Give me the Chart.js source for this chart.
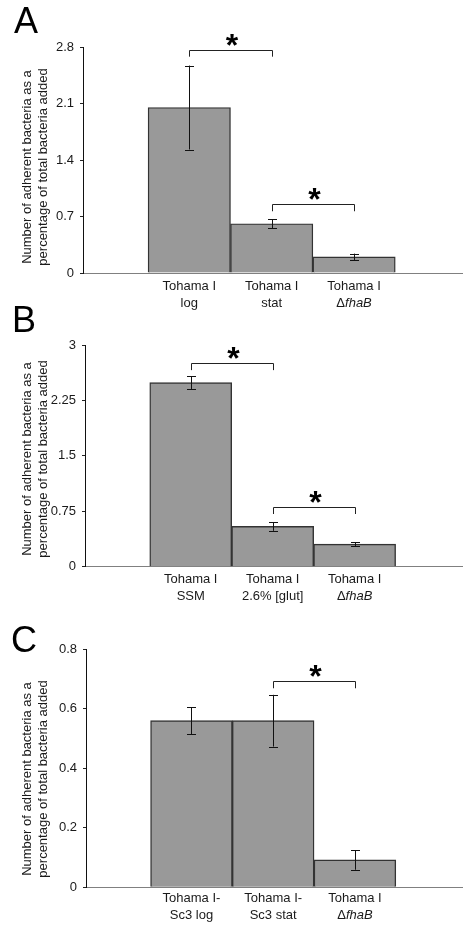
<!DOCTYPE html>
<html>
<head>
<meta charset="utf-8">
<script src="https://cdn.jsdelivr.net/npm/chart.js@4"></script>
<style>
  body { margin: 0; background: #fff; width: 474px; height: 930px; position: relative; overflow: hidden; }
  canvas { position: absolute; left: 0; }
</style>
</head>
<body>
<canvas id="chartA" width="474" height="310" style="top:0"></canvas>
<canvas id="chartB" width="474" height="325" style="top:295px"></canvas>
<canvas id="chartC" width="474" height="310" style="top:620px"></canvas>
<script>
// ---- data ----
// italic parts of a label are wrapped in underscores
const strainsA = [['Tohama I', 'log'], ['Tohama I', 'stat'], ['Tohama I', 'Δ_fhaB_']];
const meansA = [2.05, 0.61, 0.20];
const errorsA = [0.52, 0.055, 0.04];
const yTicksA = ['0', '0.7', '1.4', '2.1', '2.8'];
const sigA = [[0, 1, 2.76, 2.68], [1, 2, 0.855, 0.765]]; // from bar, to bar, bracket top, bracket foot

const strainsB = [['Tohama I', 'SSM'], ['Tohama I', '2.6% [glut]'], ['Tohama I', 'Δ_fhaB_']];
const meansB = [2.49, 0.545, 0.305];
const errorsB = [0.085, 0.06, 0.025];
const yTicksB = ['0', '0.75', '1.5', '2.25', '3'];
const sigB = [[0, 1, 2.76, 2.66], [1, 2, 0.81, 0.713]];

const strainsC = [['Tohama I-', 'Sc3 log'], ['Tohama I-', 'Sc3 stat'], ['Tohama I', 'Δ_fhaB_']];
const meansC = [0.56, 0.56, 0.092];
const errorsC = [0.046, 0.087, 0.033];
const yTicksC = ['0', '0.2', '0.4', '0.6', '0.8'];
const sigC = [[1, 2, 0.694, 0.669]];

const yTitle = ['Number of adherent bacteria as a', 'percentage of total bacteria added'];
const FONT = '"Liberation Sans", Arial, sans-serif';

// draws error bars, significance brackets, x labels, y title and panel letter
const extras = {
  id: 'extras',
  afterDatasetsDraw(chart, args, o) {
    const ctx = chart.ctx, x = chart.scales.x, y = chart.scales.y, area = chart.chartArea;
    ctx.save();
    ctx.strokeStyle = '#111';
    ctx.lineWidth = 1;
    // error bars
    o.means.forEach((m, i) => {
      const px = Math.round(x.getPixelForValue(i + 1)) + 0.5;
      const top = y.getPixelForValue(m + o.errors[i]);
      const bot = y.getPixelForValue(m - o.errors[i]);
      ctx.beginPath();
      ctx.moveTo(px, top); ctx.lineTo(px, bot);
      ctx.moveTo(px - 4.5, Math.round(top) + 0.5); ctx.lineTo(px + 4.5, Math.round(top) + 0.5);
      ctx.moveTo(px - 4.5, Math.round(bot) + 0.5); ctx.lineTo(px + 4.5, Math.round(bot) + 0.5);
      ctx.stroke();
    });
    // significance brackets
    ctx.fillStyle = '#000';
    ctx.font = 'bold 32px ' + FONT;
    ctx.textAlign = 'center';
    ctx.textBaseline = 'alphabetic';
    const mt = ctx.measureText('*');
    const half = (mt.actualBoundingBoxAscent - mt.actualBoundingBoxDescent) / 2;
    o.sig.forEach(([a, b, t, f]) => {
      const x1 = Math.round(x.getPixelForValue(a + 1)) + 0.5;
      const x2 = Math.round(x.getPixelForValue(b + 1)) + 0.5;
      const yt = Math.round(y.getPixelForValue(t)) + 0.5;
      const yf = y.getPixelForValue(f);
      ctx.strokeStyle = '#222';
      ctx.beginPath();
      ctx.moveTo(x1, yf); ctx.lineTo(x1, yt); ctx.lineTo(x2, yt); ctx.lineTo(x2, yf);
      ctx.stroke();
      ctx.fillText('*', (x1 + x2) / 2 + 1, yt - 11 + half);
    });
    // category labels
    ctx.textBaseline = 'middle';
    o.labels.forEach((lines, i) => {
      const cx = x.getPixelForValue(i + 1);
      lines.forEach((line, k) => {
        const ly = area.bottom + o.labelDy + k * 17;
        const parts = line.split('_');
        ctx.textAlign = 'left';
        const fonts = parts.map((p, j) => (j % 2 ? 'italic ' : '') + '13px ' + FONT);
        let w = 0;
        parts.forEach((p, j) => { ctx.font = fonts[j]; w += ctx.measureText(p).width; });
        let sx = cx - w / 2;
        parts.forEach((p, j) => {
          ctx.font = fonts[j];
          ctx.fillStyle = '#1a1a1a';
          ctx.fillText(p, sx, ly);
          sx += ctx.measureText(p).width;
        });
      });
    });
    // y axis title
    ctx.save();
    ctx.translate(0, o.titleY);
    ctx.rotate(-Math.PI / 2);
    ctx.textAlign = 'center';
    ctx.font = '13px ' + FONT;
    ctx.fillStyle = '#1a1a1a';
    ctx.fillText(yTitle[0], 0, 27);
    ctx.fillText(yTitle[1], 0, 43.5);
    ctx.restore();
    // panel letter
    ctx.font = '36px ' + FONT;
    ctx.fillStyle = '#000';
    ctx.textAlign = 'left';
    ctx.textBaseline = 'alphabetic';
    ctx.fillText(o.letter, o.letterX, o.letterY);
    ctx.restore();
  }
};

function makePanel(id, opts) {
  const { labels, means, errors, ticks, sig, max, step, top, left, bottomH } = opts;
  return new Chart(document.getElementById(id), {
    type: 'bar',
    data: {
      datasets: [{
        data: means.map((v, i) => ({ x: i + 1, y: v })),
        backgroundColor: '#999999',
        borderColor: '#333333',
        borderWidth: 1.4,
        barPercentage: 1,
        categoryPercentage: 1
      }]
    },
    options: {
      responsive: false,
      animation: false,
      events: [],
      layout: { padding: { top: top, right: 12, left: 0, bottom: 0 } },
      plugins: {
        legend: { display: false },
        tooltip: { enabled: false },
        extras: {
          means, errors, sig, labels,
          labelDy: opts.labelDy, titleY: opts.titleY,
          letter: opts.letter, letterX: opts.letterX, letterY: opts.letterY
        }
      },
      scales: {
        x: {
          type: 'linear',
          min: -0.29, max: 4.31,
          offset: false,
          ticks: { display: false },
          grid: { display: true, drawOnChartArea: false, drawTicks: false, offset: false },
          border: { color: '#808080', width: 1 },
          afterFit(s) { s.height = bottomH; }
        },
        y: {
          min: 0, max: max,
          ticks: {
            stepSize: step,
            color: '#1a1a1a',
            font: { family: FONT, size: 13 },
            padding: 6,
            callback: (v, i) => ticks[i]
          },
          grid: { drawOnChartArea: false, drawTicks: true, tickLength: 3, color: '#222' },
          border: { color: '#111', width: 1 },
          afterFit(s) { s.width = left; }
        }
      }
    },
    plugins: [extras]
  });
}

makePanel('chartA', {
  labels: strainsA, means: meansA, errors: errorsA, ticks: yTicksA, sig: sigA,
  max: 2.8, step: 0.7, top: 47, left: 83, bottomH: 37,
  labelDy: 13, titleY: 167, letter: 'A', letterX: 14, letterY: 33
});
makePanel('chartB', {
  labels: strainsB, means: meansB, errors: errorsB, ticks: yTicksB, sig: sigB,
  max: 3, step: 0.75, top: 50, left: 85, bottomH: 53.3,
  labelDy: 12.6, titleY: 164, letter: 'B', letterX: 12, letterY: 37
});
makePanel('chartC', {
  labels: strainsC, means: meansC, errors: errorsC, ticks: yTicksC, sig: sigC,
  max: 0.8, step: 0.2, top: 29.3, left: 86, bottomH: 42.7,
  labelDy: 11, titleY: 159, letter: 'C', letterX: 11, letterY: 31.5
});
</script>
</body>
</html>
